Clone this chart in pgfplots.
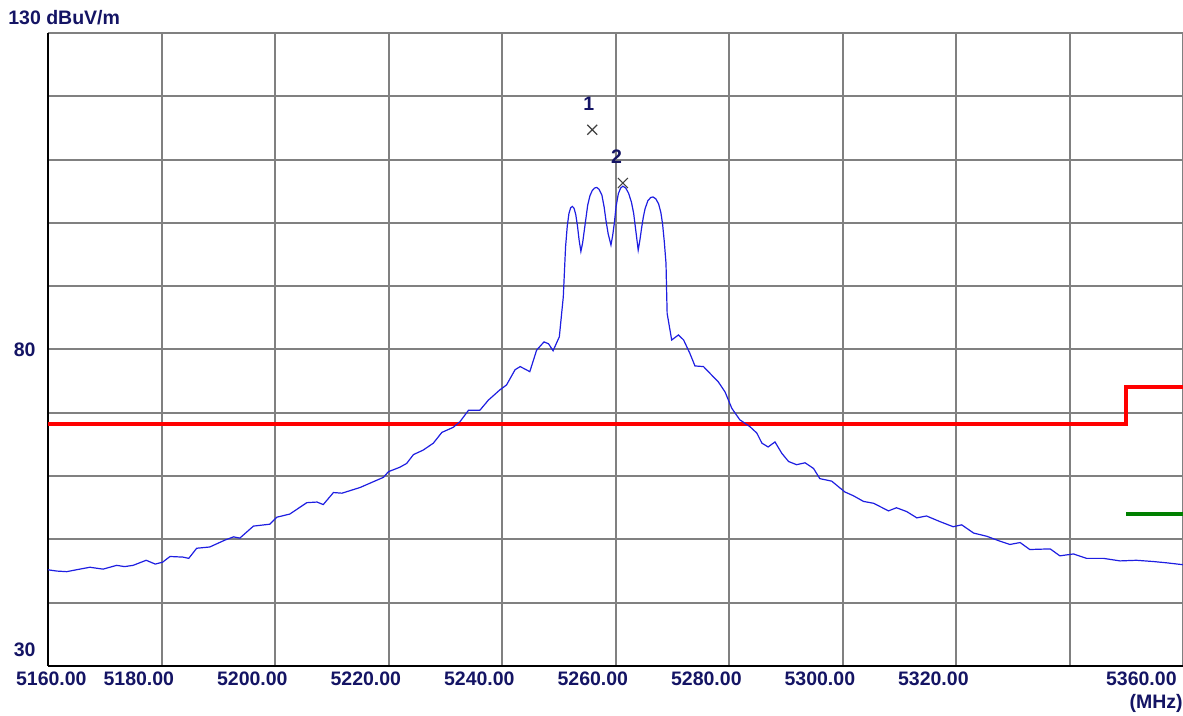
\documentclass[border=0pt]{standalone}
\usepackage{fontspec}
\setmainfont{Liberation Sans}
\usepackage{pgfplots}
\pgfplotsset{compat=1.18}
\newdimen\pu \pu=0.5pt
\definecolor{lbl}{RGB}{20,20,100}
\definecolor{gridgray}{RGB}{128,128,128}
\definecolor{trace}{RGB}{30,30,225}
\definecolor{limgreen}{RGB}{0,128,0}
\begin{document}
\begin{tikzpicture}
\useasboundingbox (0,0) rectangle (1183\pu,716\pu);
\begin{axis}[
  at={(48\pu,50\pu)}, anchor=south west,
  scale only axis, width=1135\pu, height=633\pu,
  xmin=5160, xmax=5360, ymin=30, ymax=130,
  xtick={5160,5180,...,5360},
  ytick={30,40,...,130},
  xticklabels={{},5180.00,5200.00,5220.00,5240.00,5260.00,5280.00,5300.00,5320.00,{},{}},
  yticklabels={{},{},{},{},{},80,{},{},{},{},{}},
  grid=major,
  major grid style={draw=gridgray, line width=2\pu},
  major tick length=0pt,
  axis x line*=bottom, axis y line*=left,
  axis line style={draw=black, line width=2\pu, -},
  every tick label/.append style={font=\fontsize{9.75pt}{11pt}\selectfont\bfseries, text=lbl, inner sep=0pt},
  xticklabel style={anchor=north east, xshift=13\pu, yshift=-5\pu},
  yticklabel style={anchor=east, xshift=-12\pu},
  /pgf/number format/assume math mode=true,
  clip=false,
]
% limit lines
\addplot[red, line width=4\pu, const plot] coordinates {(5160,68.2) (5350,68.2) (5350,74) (5360,74)};
\addplot[limgreen, line width=3.5\pu] coordinates {(5350,54) (5360,54)};
% measured trace
\addplot[trace, line width=1.2\pu] coordinates {
(5160.0,45.2) (5161.5,45.0) (5163.3,44.9) (5165.0,45.2) (5167.4,45.6) (5169.7,45.3)
(5172.1,45.9) (5173.5,45.7) (5175.0,45.9) (5177.3,46.7) (5178.9,46.1) (5180.2,46.4)
(5181.5,47.3) (5183.8,47.2) (5184.8,47.0) (5186.2,48.6) (5188.5,48.8) (5191.2,49.9)
(5192.7,50.4) (5193.8,50.2) (5196.2,52.1) (5199.1,52.4) (5200.3,53.5) (5202.6,54.0)
(5205.6,55.8) (5207.4,55.9) (5208.5,55.5) (5210.3,57.4) (5211.8,57.3) (5215.0,58.2)
(5217.3,59.1) (5219.1,59.8) (5220.0,60.7) (5222.0,61.4) (5223.2,62.0) (5224.4,63.4)
(5226.1,64.1) (5227.9,65.2) (5229.4,66.9) (5231.4,67.7) (5232.6,68.6) (5234.1,70.4)
(5236.1,70.4) (5237.6,72.0) (5239.6,73.6) (5240.8,74.4) (5242.3,76.8) (5243.2,77.3)
(5244.9,76.5) (5246.1,79.9) (5247.4,81.2) (5248.2,80.9) (5249.0,79.8) (5250.1,82.0)
(5250.8,88.3) (5251.2,96.2) (5251.5,99.5) (5251.8,101.5) (5252.1,102.4) (5252.4,102.6)
(5252.7,102.3) (5253.0,101.3) (5253.3,99.5) (5253.6,97.2) (5253.9,95.5) (5254.2,96.8)
(5254.5,98.8) (5254.8,100.8) (5255.1,102.8) (5255.5,104.3) (5255.9,105.1) (5256.3,105.5)
(5256.7,105.6) (5257.1,105.3) (5257.6,104.4) (5258.0,102.5) (5258.3,100.5) (5258.7,98.3)
(5259.2,96.5) (5259.5,98.0) (5259.8,100.0) (5260.1,102.6) (5260.5,104.6) (5260.9,105.5)
(5261.3,105.8) (5261.8,105.5) (5262.3,104.7) (5262.8,103.3) (5263.2,101.5) (5263.6,98.6)
(5264.0,95.7) (5264.3,97.3) (5264.6,99.2) (5264.9,100.9) (5265.2,102.2) (5265.7,103.5)
(5266.2,104.0) (5266.6,104.1) (5267.1,103.8) (5267.6,103.0) (5268.0,101.6) (5268.3,99.8)
(5268.6,97.0) (5268.9,93.6) (5269.0,89.5) (5269.1,85.7)
(5269.9,81.5) (5271.1,82.3) (5272.0,81.5) (5273.1,79.4) (5274.0,77.4)
(5275.5,77.3) (5276.9,76.0) (5278.1,74.9) (5279.3,73.3) (5280.5,70.7) (5281.9,68.9)
(5283.7,67.8) (5284.9,66.8) (5285.8,65.2) (5286.9,64.6) (5288.1,65.4) (5289.3,63.6)
(5290.5,62.3) (5291.9,61.8) (5293.4,62.1) (5294.9,61.2) (5296.0,59.6) (5298.1,59.2)
(5300.4,57.5) (5301.9,56.9) (5303.7,56.0) (5305.5,55.7) (5308.1,54.5) (5309.5,55.0)
(5311.3,54.4) (5313.1,53.4) (5314.8,53.7) (5317.2,52.8) (5319.5,52.0) (5321.0,52.3)
(5323.1,51.0) (5325.4,50.5) (5327.8,49.7) (5329.5,49.2) (5331.3,49.5) (5333.0,48.4)
(5336.6,48.5) (5338.3,47.4) (5340.7,47.7) (5343.0,47.0) (5346.0,47.0) (5348.9,46.6)
(5351.8,46.7) (5354.8,46.5) (5357.1,46.3) (5360.0,46.0)
};
% markers
\addplot[only marks, mark=x, mark size=7\pu, draw=black!75, line width=1.2\pu] coordinates {(5255.9,114.7) (5261.3,106.3)};
\node[font=\fontsize{9.75pt}{11pt}\selectfont\bfseries, text=lbl, inner sep=0pt] at (axis cs:5255.3,114.7) [yshift=26\pu] {1};
\node[font=\fontsize{9.75pt}{11pt}\selectfont\bfseries, text=lbl, inner sep=0pt] at (axis cs:5260.2,106.3) [yshift=26\pu] {2};
% axis texts
\node[font=\fontsize{9.75pt}{11pt}\selectfont\bfseries, text=lbl, inner sep=0pt, anchor=north east] at (axis cs:5160,30) [xshift=39\pu, yshift=-5\pu] {5160.00};
\node[font=\fontsize{9.75pt}{11pt}\selectfont\bfseries, text=lbl, inner sep=0pt, anchor=north east] at (axis cs:5360,30) [xshift=-6\pu, yshift=-5\pu] {5360.00};
\node[font=\fontsize{9.75pt}{11pt}\selectfont\bfseries, text=lbl, inner sep=0pt, anchor=east] at (rel axis cs:1,0) [yshift=-37\pu] {(MHz)};
\node[font=\fontsize{9.75pt}{11pt}\selectfont\bfseries, text=lbl, inner sep=0pt, anchor=east] at (rel axis cs:0,0) [xshift=-12\pu, yshift=16\pu] {30};
\node[font=\fontsize{9.75pt}{11pt}\selectfont\bfseries, text=lbl, inner sep=0pt, anchor=west] at (rel axis cs:0,1) [xshift=-40\pu, yshift=15\pu] {130 dBuV/m};
\end{axis}
\end{tikzpicture}
\end{document}
